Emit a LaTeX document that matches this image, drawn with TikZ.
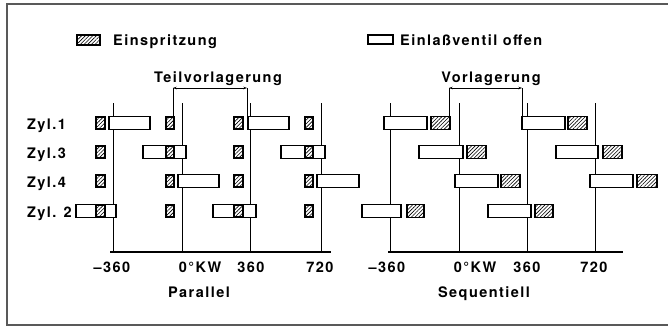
\documentclass[tikz,border=0pt]{standalone}
\usepackage{fontspec}
\newfontfamily\lblfont{TeX Gyre Heros Bold}[LetterSpace=10]
\usetikzlibrary{patterns.meta,arrows.meta}
\begin{document}
\begin{tikzpicture}[x=1pt,y=-1pt,
  openbox/.style={draw, line width=1.2pt, fill=white},
  injbox/.style={draw, line width=1.2pt, fill=white,
     postaction={pattern={Lines[angle=45,distance=2.6pt,line width=0.6pt]}}},
  vline/.style={line width=0.6pt},
  axisline/.style={line width=1.2pt},
  lbl/.style={font=\fontsize{14.5}{16}\lblfont, inner sep=0pt},
  dim/.style={line width=0.6pt, {Stealth[length=3.5pt,width=2.5pt]}-{Stealth[length=3.5pt,width=2.5pt]}}]
\useasboundingbox (0,0) rectangle (668,327);
% frame
\draw[line width=1.3pt, black!65] (670,4) -- (7,4) -- (7,325) -- (670,325);
% legend
\draw[injbox] (77,35) rectangle (100,45);
\node[lbl, anchor=base west] (leginj) at (113,45) {Einspritzung};
\draw[openbox] (368,35) rectangle (393,44);
\node[lbl, anchor=base west] (legopen) at (400,45) {Einlaßventil offen};
% cylinder labels
\node[lbl, anchor=base west] (z1) at (27,129) {Zyl.1};
\node[lbl, anchor=base west] (z3) at (27,158) {Zyl.3};
\node[lbl, anchor=base west] (z4) at (27,187) {Zyl.4};
\node[lbl, anchor=base west] (z2) at (27,217) {Zyl. 2};
% vertical crank lines
\foreach \x in {113,182,250,321,390,459,527,595}
  \draw[vline] (\x,103) -- (\x,252);
% axes
\draw[axisline] (110,252) -- (331,252);
\draw[axisline] (388,252) -- (623,252);
% open intake boxes
\foreach \a/\b/\y in {109/150/123, 248/289/123, 143/186/152, 281/325/152,
                      178/219/181, 317/359/181, 76/116/211, 213/256/211,
                      384/427/123, 522/565/123, 419/463/152, 556/598/152,
                      455/498/181, 590/633/181, 362/401/211, 488/531/211}
  \draw[openbox] (\a,\y-6.5) rectangle (\b,\y+6.5);
% injection boxes, parallel
\foreach \y in {123,152,181,211}
  \foreach \a/\b in {96/105,166/174,234/243,305/313}
    \draw[injbox] (\a,\y-6) rectangle (\b,\y+6);
% injection boxes, sequential
\foreach \a/\b/\y in {431/450/123, 568/587/123, 467/486/152, 603/622/152,
                      501/520/181, 637/657/181, 407/424/211, 535/553/211}
  \draw[injbox] (\a,\y-6.5) rectangle (\b,\y+6.5);
% Teilvorlagerung bracket
\coordinate (pl) at (173,88);
\coordinate (pr) at (247,88);
\draw[vline] (pl) -- (173,117);
\draw[vline] (pr) -- (247,116.5);
\draw[dim] (pl) -- (pr);
\node[lbl, anchor=base] (tv) at (218,82) {Teilvorlagerung};
% Vorlagerung bracket
\coordinate (sl) at (449,88);
\coordinate (sr) at (522,88);
\draw[vline] (sl) -- (449,116.5);
\draw[vline] (sr) -- (522,116.5);
\draw[dim] (sl) -- (sr);
\node[lbl, anchor=base] (vl) at (491,82) {Vorlagerung};
% axis labels parallel
\node[lbl, anchor=base] (p1) at (112,272) {–360};
\node[lbl, anchor=base] (p2) at (200,272) {0°KW};
\node[lbl, anchor=base] (p3) at (251,272) {360};
\node[lbl, anchor=base] (p4) at (320,272) {720};
\node[lbl, anchor=base] (par) at (199,297) {Parallel};
% axis labels sequential
\node[lbl, anchor=base] (s1) at (387,272) {–360};
\node[lbl, anchor=base] (s2) at (475,272) {0°KW};
\node[lbl, anchor=base] (s3) at (527,272) {360};
\node[lbl, anchor=base] (s4) at (594,272) {720};
\node[lbl, anchor=base] (seq) at (484,297) {Sequentiell};
\end{tikzpicture}
\end{document}
